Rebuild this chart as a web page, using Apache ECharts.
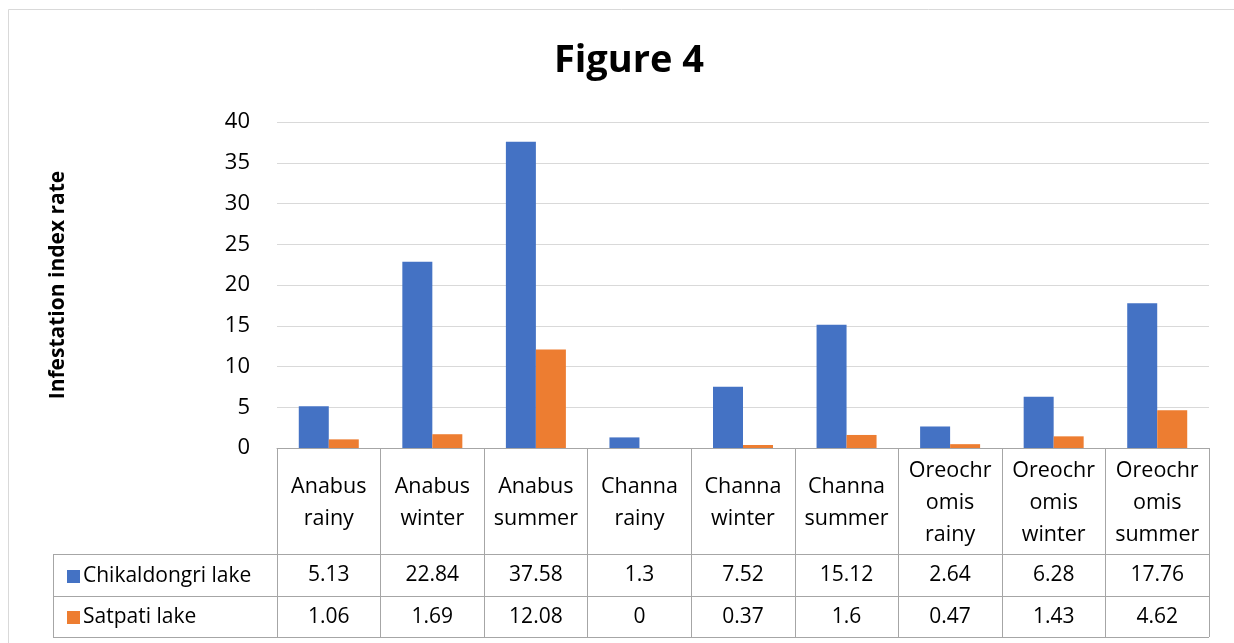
<!DOCTYPE html>
<html>
<head>
<meta charset="utf-8">
<script src="https://cdn.jsdelivr.net/npm/echarts@6/dist/echarts.min.js"></script>
<style>
  html, body { margin: 0; padding: 0; background: #fff; }
  #chart { width: 1234px; height: 643px; }
</style>
</head>
<body>
<div id="chart"></div>
<script>
// 类别（表头）
var categories = [
  'Anabus\nrainy', 'Anabus\nwinter', 'Anabus\nsummer',
  'Channa\nrainy', 'Channa\nwinter', 'Channa\nsummer',
  'Oreochr\nomis\nrainy', 'Oreochr\nomis\nwinter', 'Oreochr\nomis\nsummer'
]
// 两个湖的数据
var chikaldongri = [5.13, 22.84, 37.58, 1.3, 7.52, 15.12, 2.64, 6.28, 17.76]
var satpati = [1.06, 1.69, 12.08, 0, 0.37, 1.6, 0.47, 1.43, 4.62]
var seriesNames = ['Chikaldongri lake', 'Satpati lake']
var yTicks = { min: 0, max: 40, interval: 5 }

var font = 'Open Sans'
var tableLine = '#a6a6a6'

var myChart = echarts.init(document.getElementById('chart'))

// 数据表格中的数值行，用额外的类目轴来画
function valueAxis(values, margin) {
  return {
    type: 'category',
    position: 'bottom',
    data: values.map(String),
    axisLine: { show: false },
    axisTick: { show: false },
    axisLabel: {
      interval: 0,
      margin: margin,
      verticalAlign: 'middle',
      fontFamily: font,
      fontSize: 21,
      color: '#000'
    }
  }
}

var option = {
  animation: false,
  backgroundColor: '#fff',
  title: {
    text: 'Figure 4',
    left: 624,
    top: 37,
    textAlign: 'center',
    textStyle: { fontFamily: font, fontWeight: 'bold', fontSize: 38, color: '#000' }
  },
  legend: {
    orient: 'vertical',
    left: 62,
    top: 561,
    itemWidth: 13,
    itemHeight: 13,
    itemGap: 20,
    icon: 'rect',
    selectedMode: false,
    data: seriesNames,
    textStyle: { fontFamily: font, fontSize: 21, color: '#000', padding: [0, 0, 0, -2] }
  },
  grid: { left: 277, right: 25, top: 122, bottom: 195, containLabel: false },
  xAxis: [
    {
      type: 'category',
      data: categories,
      axisLine: { lineStyle: { color: tableLine, width: 1 } },
      axisTick: { show: true, interval: 0, length: 189, lineStyle: { color: tableLine } },
      axisLabel: {
        interval: 0,
        margin: 55,
        verticalAlign: 'middle',
        lineHeight: 32,
        fontFamily: font,
        fontSize: 21.5,
        color: '#000'
      }
    },
    valueAxis(chikaldongri, 127),
    valueAxis(satpati, 169)
  ],
  yAxis: {
    type: 'value',
    min: yTicks.min,
    max: yTicks.max,
    interval: yTicks.interval,
    name: 'Infestation index rate',
    nameLocation: 'middle',
    nameRotate: 90,
    nameGap: 208,
    nameTextStyle: { fontFamily: font, fontWeight: 'bold', fontSize: 21, color: '#000' },
    axisLine: { show: false },
    axisTick: { show: false },
    axisLabel: { margin: 27, fontFamily: font, fontSize: 22, color: '#000' },
    splitLine: { lineStyle: { color: '#d9d9d9', width: 1 } }
  },
  series: [
    {
      name: seriesNames[0],
      type: 'bar',
      data: chikaldongri,
      barWidth: 30,
      barGap: 0,
      itemStyle: { color: '#4472c4' }
    },
    {
      name: seriesNames[1],
      type: 'bar',
      data: satpati,
      barWidth: 30,
      barGap: 0,
      itemStyle: { color: '#ed7d31' }
    }
  ],
  graphic: [
    // 外框
    { type: 'rect', shape: { x: 8.5, y: 9.5, width: 1300, height: 700 }, style: { fill: null, stroke: '#d9d9d9', lineWidth: 1 }, silent: true },
    // 表格横线和左边竖线
    { type: 'line', shape: { x1: 53, y1: 554.5, x2: 1209, y2: 554.5 }, style: { stroke: tableLine, lineWidth: 1 }, silent: true },
    { type: 'line', shape: { x1: 53, y1: 596.5, x2: 1209, y2: 596.5 }, style: { stroke: tableLine, lineWidth: 1 }, silent: true },
    { type: 'line', shape: { x1: 53, y1: 637.5, x2: 1209, y2: 637.5 }, style: { stroke: tableLine, lineWidth: 1 }, silent: true },
    { type: 'line', shape: { x1: 53.5, y1: 554, x2: 53.5, y2: 638 }, style: { stroke: tableLine, lineWidth: 1 }, silent: true }
  ]
}

myChart.setOption(option)
window.addEventListener('resize', () => {
  myChart.resize()
})
</script>
</body>
</html>
